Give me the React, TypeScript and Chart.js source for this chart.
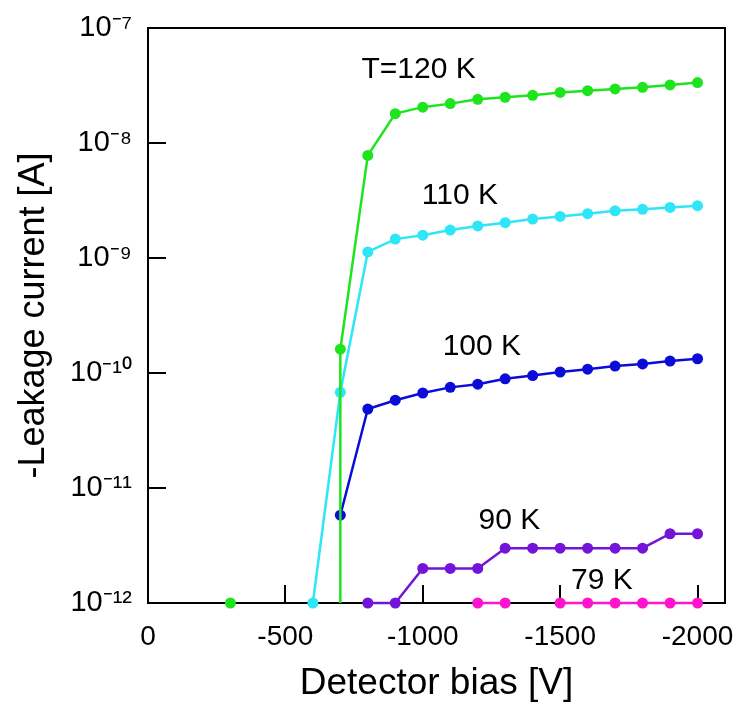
import React, { useEffect, useRef } from "react";
import { Chart, registerables } from "chart.js";

Chart.register(...registerables);

const FONT = "'Liberation Sans', Arial, Helvetica, sans-serif";

// ---- data (bias in V, current in A) ----
const biasT120 = [-300, -500, -700, -700, -800, -900, -1000, -1100, -1200, -1300, -1400, -1500, -1600, -1700, -1800, -1900, -2000];
const currentT120 = [1e-12, null, 1e-12, 1.61e-10, 7.8e-9, 1.8e-8, 2.05e-8, 2.2e-8, 2.4e-8, 2.5e-8, 2.6e-8, 2.75e-8, 2.85e-8, 2.95e-8, 3.05e-8, 3.2e-8, 3.35e-8];
const hiddenMarkersT120 = [2];

const biasT110 = [-600, -700, -800, -900, -1000, -1100, -1200, -1300, -1400, -1500, -1600, -1700, -1800, -1900, -2000];
const currentT110 = [1e-12, 6.8e-11, 1.13e-9, 1.46e-9, 1.58e-9, 1.75e-9, 1.9e-9, 2.03e-9, 2.18e-9, 2.3e-9, 2.43e-9, 2.57e-9, 2.65e-9, 2.75e-9, 2.85e-9];

const biasT100 = [-700, -800, -900, -1000, -1100, -1200, -1300, -1400, -1500, -1600, -1700, -1800, -1900, -2000];
const currentT100 = [5.8e-12, 4.86e-11, 5.8e-11, 6.7e-11, 7.5e-11, 8.0e-11, 8.9e-11, 9.5e-11, 1.02e-10, 1.08e-10, 1.15e-10, 1.2e-10, 1.27e-10, 1.33e-10];

const biasT90 = [-800, -900, -1000, -1100, -1200, -1300, -1400, -1500, -1600, -1700, -1800, -1900, -2000];
const currentT90 = [1e-12, 1e-12, 2e-12, 2e-12, 2e-12, 3e-12, 3e-12, 3e-12, 3e-12, 3e-12, 3e-12, 4e-12, 4e-12];

const biasT79 = [-1200, -1300, -1400, -1500, -1600, -1700, -1800, -1900, -2000];
const currentT79 = [1e-12, 1e-12, null, 1e-12, 1e-12, 1e-12, 1e-12, 1e-12, 1e-12];

const seriesColors = ["#1ee41e", "#2ee6f6", "#0c0cd8", "#7414d8", "#ff14cc"];
const seriesLabels = ["T=120 K", "110 K", "100 K", "90 K", "79 K"];
const labelBias = [-985, -1135, -1215, -1315, -1652];
const labelCurrent = [4.3e-8, 3.5e-9, 1.7e-10, 5.2e-12, 1.55e-12];

const xTickValues = [0, -500, -1000, -1500, -2000];
const xTickLabels = ["0", "-500", "-1000", "-1500", "-2000"];
const yTickValues = [1e-12, 1e-11, 1e-10, 1e-9, 1e-8, 1e-7];
const yTickLabels = ["10\u207B\u00B9\u00B2", "10\u207B\u00B9\u00B9", "10\u207B\u00B9\u2070", "10\u207B\u2079", "10\u207B\u2078", "10\u207B\u2077"];

const xTitle = "Detector bias [V]";
const yTitle = "-Leakage current [A]";

const TICK_LEN = 18;

function pts(xs: number[], ys: (number | null)[]) {
  return xs.map((x, i) => ({ x, y: ys[i] }));
}

const framePlugin = {
  id: "frameAndLabels",
  beforeDatasetsDraw(chart: any) {
    const { ctx, chartArea: a, scales } = chart;
    ctx.save();
    ctx.strokeStyle = "#000";
    ctx.lineWidth = 2;
    ctx.lineJoin = "miter";
    ctx.beginPath();
    ctx.moveTo(a.left, a.top);
    ctx.lineTo(a.right, a.top);
    ctx.lineTo(a.right, a.bottom);
    ctx.stroke();
    const xs = scales.x;
    const ys = scales.y;
    ctx.beginPath();
    xs.ticks.forEach((_t: any, i: number) => {
      const px = Math.round(xs.getPixelForTick(i));
      ctx.moveTo(px, a.bottom);
      ctx.lineTo(px, a.bottom - TICK_LEN);
    });
    ys.ticks.forEach((_t: any, i: number) => {
      const py = Math.round(ys.getPixelForTick(i));
      ctx.moveTo(a.left, py);
      ctx.lineTo(a.left + TICK_LEN, py);
    });
    ctx.stroke();
    ctx.restore();
  },
  afterDatasetsDraw(chart: any) {
    const { ctx, scales } = chart;
    ctx.save();
    ctx.fillStyle = "#000";
    ctx.font = `30px ${FONT}`;
    ctx.textAlign = "center";
    ctx.textBaseline = "middle";
    seriesLabels.forEach((t, i) => {
      const px = scales.x.getPixelForValue(labelBias[i]);
      const py = scales.y.getPixelForValue(labelCurrent[i]);
      ctx.fillText(t, px, py);
    });
    ctx.restore();
  },
};

export default function App() {
  const ref = useRef<HTMLCanvasElement | null>(null);

  useEffect(() => {
    if (!ref.current) return;
    const series = [
      { data: pts(biasT120, currentT120), hidden: hiddenMarkersT120 },
      { data: pts(biasT110, currentT110), hidden: [] as number[] },
      { data: pts(biasT100, currentT100), hidden: [] as number[] },
      { data: pts(biasT90, currentT90), hidden: [] as number[] },
      { data: pts(biasT79, currentT79), hidden: [] as number[] },
    ];
    const chart = new Chart(ref.current, {
      type: "line",
      data: {
        datasets: series.map((s, i) => ({
          label: seriesLabels[i],
          data: s.data,
          borderColor: seriesColors[i],
          backgroundColor: seriesColors[i],
          pointBackgroundColor: seriesColors[i],
          pointBorderColor: seriesColors[i],
          pointBorderWidth: 0,
          pointRadius: (c: any) => (s.hidden.includes(c.dataIndex) ? 0 : 5.5),
          borderWidth: 2.5,
          tension: 0,
          spanGaps: false,
          clip: false as any,
          fill: false,
        })),
      },
      options: {
        animation: false,
        responsive: false,
        devicePixelRatio: 1,
        events: [],
        layout: { padding: { left: 0, top: 28, right: 17, bottom: 0 }, autoPadding: false },
        plugins: { legend: { display: false }, tooltip: { enabled: false } },
        scales: {
          x: {
            type: "linear",
            min: -2100,
            max: 0,
            reverse: true,
            afterBuildTicks: (scale: any) => {
              scale.ticks = xTickValues.map((v) => ({ value: v }));
            },
            afterFit: (scale: any) => {
              scale.height = 101;
              scale.paddingLeft = 0;
              scale.paddingRight = 0;
            },
            grid: { display: false, drawTicks: false },
            border: { display: true, color: "#000", width: 2 },
            ticks: {
              color: "#000",
              font: { family: FONT, size: 28 },
              padding: 17,
              maxRotation: 0,
              autoSkip: false,
              callback: (v: any) => {
                const i = xTickValues.indexOf(Number(v));
                return i >= 0 ? xTickLabels[i] : "";
              },
            },
            title: {
              display: true,
              text: xTitle,
              color: "#000",
              font: { family: FONT, size: 37 },
              padding: { top: 0, bottom: -2 },
            },
          },
          y: {
            type: "logarithmic",
            min: 1e-12,
            max: 1e-7,
            afterBuildTicks: (scale: any) => {
              scale.ticks = yTickValues.map((v) => ({ value: v }));
            },
            afterFit: (scale: any) => {
              scale.width = 148;
              scale.paddingTop = 0;
              scale.paddingBottom = 0;
            },
            grid: { display: false, drawTicks: false },
            border: { display: true, color: "#000", width: 2 },
            ticks: {
              color: "#000",
              font: { family: FONT, size: 29 },
              padding: 16,
              autoSkip: false,
              callback: (v: any) => {
                const val = Number(v);
                const i = yTickValues.findIndex((t) => Math.abs(Math.log10(t) - Math.log10(val)) < 1e-6);
                return i >= 0 ? yTickLabels[i] : "";
              },
            },
            title: {
              display: true,
              text: yTitle,
              color: "#000",
              font: { family: FONT, size: 36 },
              padding: { top: 12, bottom: 0 },
            },
          },
        },
      },
      plugins: [framePlugin],
    });
    return () => chart.destroy();
  }, []);

  return (
    <div style={{ position: "fixed", left: 0, top: 0, width: 742, height: 704, background: "#fff" }}>
      <canvas ref={ref} width={742} height={704} style={{ width: 742, height: 704, display: "block" }} />
    </div>
  );
}
